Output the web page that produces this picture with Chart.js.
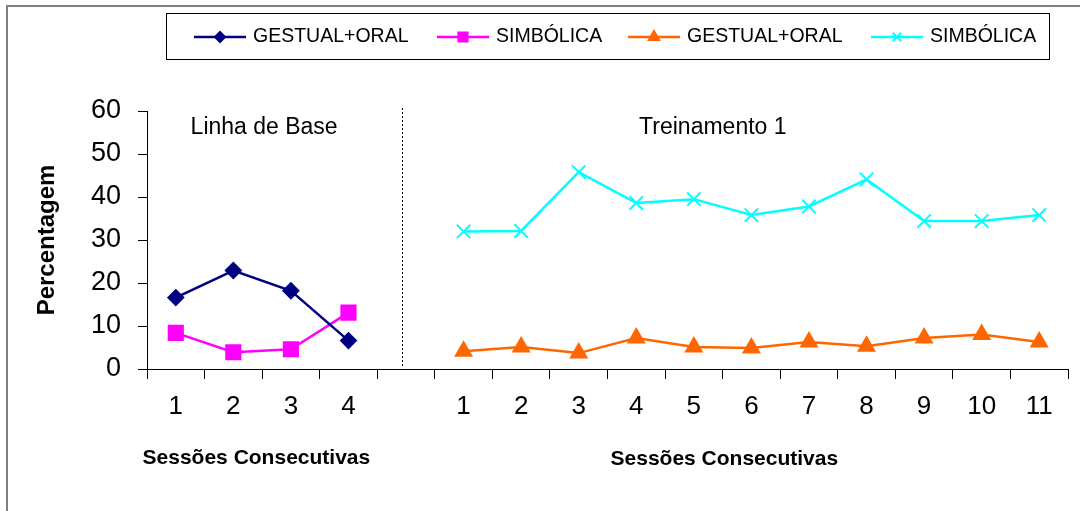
<!DOCTYPE html>
<html>
<head>
<meta charset="utf-8">
<script src="https://cdn.jsdelivr.net/npm/chart.js@4"></script>
<style>
  html, body { margin: 0; padding: 0; background: #fff; }
  #wrap { width: 1080px; height: 511px; position: relative; }
</style>
</head>
<body>
<div id="wrap"><canvas id="chart" width="1080" height="511"></canvas></div>
<script>
'use strict';

// x categories: baseline 1-4, empty slot for the phase break, training 1-11
var sessions = ['1', '2', '3', '4', '', '1', '2', '3', '4', '5', '6', '7', '8', '9', '10', '11'];
var yTicks = [0, 10, 20, 30, 40, 50, 60];

var baseGestual = [16.6, 22.9, 18.2, 6.6];
var baseSimbolica = [8.4, 3.9, 4.6, 13.1];
var treinoGestual = [4.1, 5.1, 3.7, 7.2, 5.1, 4.9, 6.3, 5.3, 7.2, 8.0, 6.3];
var treinoSimbolica = [32.0, 32.1, 45.8, 38.6, 39.5, 35.8, 37.8, 44.1, 34.4, 34.4, 35.8];

var phaseNames = ['Linha de Base', 'Treinamento 1'];
var xTitle = 'Sessões Consecutivas';
var yTitle = 'Percentagem';

var FONT = '"Liberation Sans", Arial, sans-serif';

function baseline(vals) {
    return sessions.map(function (s, i) { return i < vals.length ? vals[i] : null; });
}
function training(vals) {
    var start = sessions.length - vals.length;
    return sessions.map(function (s, i) { return i >= start ? vals[i - start] : null; });
}

var series = [
    {label: 'GESTUAL+ORAL', data: baseline(baseGestual), color: '#000080', style: 'rectRot', r: 7.5, lr: 5},
    {label: 'SIMBÓLICA', data: baseline(baseSimbolica), color: '#FF00FF', style: 'rect', r: 10, lr: 6.5},
    {label: 'GESTUAL+ORAL', data: training(treinoGestual), color: '#FF6600', style: 'triangle', r: 9, lr: 6},
    {label: 'SIMBÓLICA', data: training(treinoSimbolica), color: '#00FFFF', style: 'crossRot', r: 9.5, lr: 6}
];

// frame, legend box, phase divider and text annotations
var decorPlugin = {
    id: 'decor',
    afterDraw: function (chart) {
        var ctx = chart.ctx;
        var x = chart.scales.x;
        var area = chart.chartArea;
        ctx.save();

        // outer frame (only left/top visible in the picture)
        ctx.strokeStyle = '#7f7f7f';
        ctx.lineWidth = 2;
        ctx.strokeRect(7, 6, 1200, 700);

        // legend
        ctx.strokeStyle = '#000';
        ctx.lineWidth = 1;
        ctx.strokeRect(166.5, 13.5, 883, 46);
        var starts = [194, 437, 628, 871];
        ctx.font = '19.5px ' + FONT;
        ctx.textBaseline = 'middle';
        ctx.textAlign = 'left';
        series.forEach(function (s, i) {
            var lx = starts[i], ly = 37;
            ctx.strokeStyle = s.color;
            ctx.lineWidth = 2.5;
            ctx.beginPath();
            ctx.moveTo(lx, ly);
            ctx.lineTo(lx + 52, ly);
            ctx.stroke();
            ctx.fillStyle = s.color;
            ctx.strokeStyle = s.color;
            ctx.lineWidth = 2;
            Chart.helpers.drawPoint(ctx, {pointStyle: s.style, radius: s.lr, borderWidth: 2}, lx + 26, ly);
            ctx.fillStyle = '#000';
            ctx.fillText(s.label, lx + 59, ly);
        });

        // dotted divider between phases
        var dx = Math.round(x.getPixelForValue(4)) - 3.5;
        ctx.strokeStyle = '#000';
        ctx.lineWidth = 1;
        ctx.setLineDash([2, 2]);
        ctx.beginPath();
        ctx.moveTo(dx, area.top - 3);
        ctx.lineTo(dx, area.bottom - 3);
        ctx.stroke();
        ctx.setLineDash([]);

        // phase names
        ctx.fillStyle = '#000';
        ctx.font = '23px ' + FONT;
        ctx.textAlign = 'center';
        ctx.fillText(phaseNames[0], x.getPixelForValue(1.5) + 2, 128);
        ctx.fillText(phaseNames[1], x.getPixelForValue(9.33), 128);

        // axis titles
        ctx.font = 'bold 21px ' + FONT;
        ctx.fillText(xTitle, x.getPixelForValue(1.4), 458);
        ctx.fillText(xTitle, x.getPixelForValue(9.53), 459);

        ctx.translate(47, 240);
        ctx.rotate(-Math.PI / 2);
        ctx.font = 'bold 24px ' + FONT;
        ctx.fillText(yTitle, 0, 0);
        ctx.restore();
    }
};

var ctxEl = document.getElementById('chart').getContext('2d');
var chart = new Chart(ctxEl, {
    type: 'line',
    data: {
        labels: sessions,
        datasets: series.map(function (s) {
            return {
                label: s.label,
                data: s.data,
                borderColor: s.color,
                backgroundColor: s.color,
                borderWidth: 2.5,
                pointStyle: s.style,
                pointRadius: s.r,
                pointHoverRadius: s.r,
                pointBorderWidth: 2,
                pointBorderColor: s.color,
                pointBackgroundColor: s.color,
                tension: 0,
                spanGaps: false,
                clip: false
            };
        })
    },
    options: {
        responsive: false,
        animation: false,
        layout: {padding: {top: 111, right: 7, left: 0, bottom: 0}},
        plugins: {
            legend: {display: false},
            tooltip: {enabled: false}
        },
        scales: {
            x: {
                type: 'category',
                offset: true,
                grid: {
                    offset: true,
                    drawOnChartArea: false,
                    drawTicks: true,
                    tickLength: 10,
                    color: '#000'
                },
                border: {color: '#000', width: 1},
                ticks: {
                    color: '#000',
                    font: {family: FONT, size: 26},
                    padding: 12,
                    maxRotation: 0,
                    autoSkip: false
                },
                afterFit: function (scale) { scale.height = 142; }
            },
            y: {
                min: 0,
                max: 60,
                grid: {
                    drawOnChartArea: false,
                    drawTicks: true,
                    tickLength: 9,
                    color: '#000'
                },
                border: {color: '#000', width: 1},
                ticks: {
                    stepSize: 10,
                    color: '#000',
                    font: {family: FONT, size: 27},
                    padding: 17,
                    callback: function (v) { return yTicks.indexOf(v) >= 0 ? String(v) : ''; }
                },
                afterFit: function (scale) { scale.width = 147; }
            }
        }
    },
    plugins: [decorPlugin]
});
</script>
</body>
</html>
